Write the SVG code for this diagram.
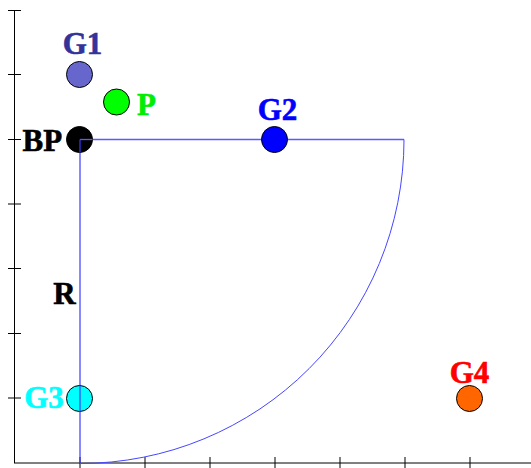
<svg xmlns="http://www.w3.org/2000/svg" width="531" height="468" viewBox="0 0 531 468">
<style>
.lbl{font-family:"Liberation Serif","Times New Roman",serif;font-weight:bold;font-size:31px;stroke-width:0.6}
.axis{stroke:#000;stroke-width:1;fill:none}
.edge{stroke:#4646ff;stroke-width:1;fill:none}
.horiz{stroke:#5a5aff;stroke-width:1.3}
.vert{stroke:#3a3aff;stroke-width:1.2}
.node{stroke:#000;stroke-width:1}
</style>
<rect width="531" height="468" fill="#fff"/>
<g id="axes" class="axis">
<line x1="14.5" y1="10" x2="14.5" y2="463"/>
<line x1="14" y1="463" x2="531" y2="463"/>
<line x1="8" y1="10.5" x2="21" y2="10.5"/>
<line x1="8" y1="74.5" x2="21" y2="74.5"/>
<line x1="8" y1="139.5" x2="21" y2="139.5"/>
<line x1="8" y1="204" x2="21" y2="204"/>
<line x1="8" y1="268.5" x2="21" y2="268.5"/>
<line x1="8" y1="333.5" x2="21" y2="333.5"/>
<line x1="8" y1="398" x2="21" y2="398"/>
<line x1="80" y1="457" x2="80" y2="469"/>
<line x1="145" y1="457" x2="145" y2="469"/>
<line x1="210" y1="457" x2="210" y2="469"/>
<line x1="275" y1="457" x2="275" y2="469"/>
<line x1="340" y1="457" x2="340" y2="469"/>
<line x1="405" y1="457" x2="405" y2="469"/>
<line x1="470" y1="457" x2="470" y2="469"/>
</g>
<g id="connectors" class="edge">
<line class="horiz" x1="80" y1="139.5" x2="404" y2="139.5"/>
<line class="vert" x1="80" y1="139.5" x2="80" y2="463.5"/>
<path d="M404,139.5 A324,324 0 0 1 80,463.5"/>
</g>
<g id="G1"><circle class="node" cx="79.5" cy="74.5" r="13" fill="#6666cc"/><text class="lbl" x="82.5" y="54" text-anchor="middle" fill="#333399" stroke="#333399">G1</text></g>
<g id="P"><circle class="node" cx="116.5" cy="102" r="13" fill="#00ff00"/><text class="lbl" x="137" y="114.5" fill="#00ee00" stroke="#00ee00">P</text></g>
<g id="BP"><circle class="node" cx="79.5" cy="139.5" r="13" fill="#000"/><text class="lbl" x="22.5" y="150.5" fill="#000" stroke="#000">BP</text></g>
<g id="G2"><circle class="node" cx="274.5" cy="139.5" r="13" fill="#0000ff"/><text class="lbl" x="277.5" y="119.5" text-anchor="middle" fill="#0000ff" stroke="#0000ff">G2</text></g>
<g id="R"><text class="lbl" x="64.5" y="303.5" text-anchor="middle" fill="#000" stroke="#000">R</text></g>
<g id="G3"><circle class="node" cx="79.5" cy="398.5" r="13" fill="#00ffff"/><text class="lbl" x="44" y="407.5" text-anchor="middle" fill="#00ffff" stroke="#00ffff">G3</text></g>
<g id="G4"><circle class="node" cx="469.5" cy="398.5" r="13" fill="#ff6600"/><text class="lbl" x="469.5" y="382.5" text-anchor="middle" fill="#ff0000" stroke="#ff0000">G4</text></g>
<g id="overlay" class="edge"><line class="vert" x1="80" y1="385.5" x2="80" y2="411.5"/><line class="horiz" x1="80" y1="139.5" x2="92.5" y2="139.5"/><line class="vert" x1="80" y1="139.5" x2="80" y2="152.5"/></g>
</svg>
